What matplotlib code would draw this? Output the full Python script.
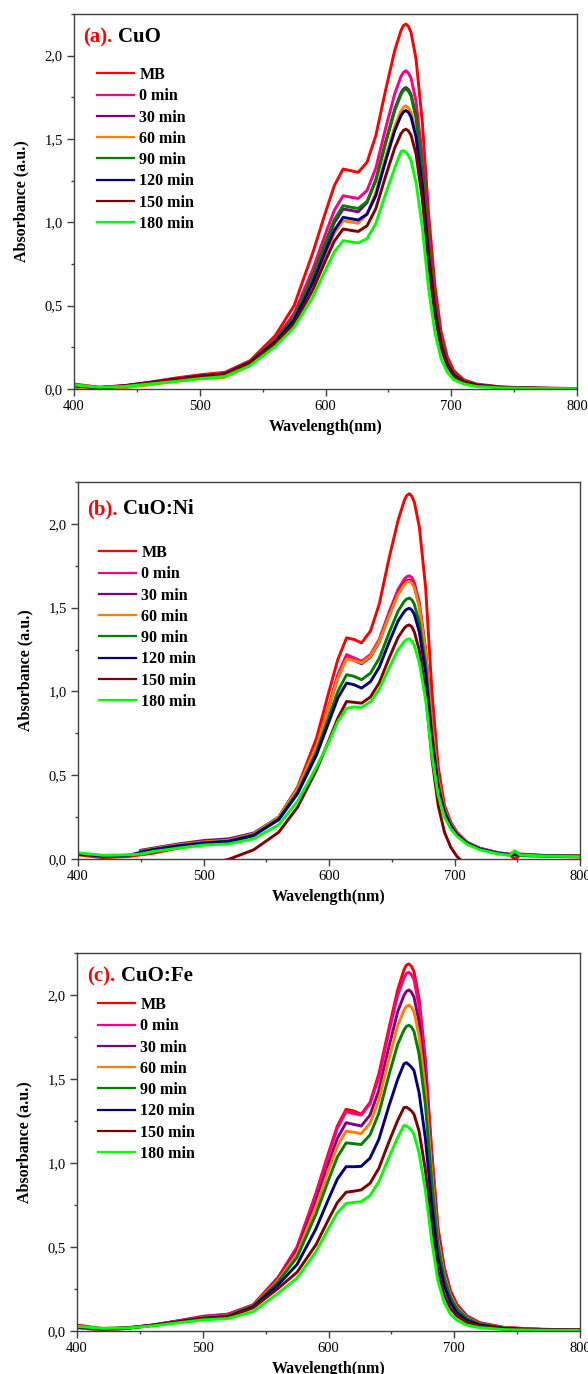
import matplotlib
matplotlib.use('Agg')
import numpy as np
import matplotlib.pyplot as plt
from matplotlib.ticker import MultipleLocator, FuncFormatter
from matplotlib.offsetbox import TextArea, HPacker, AnchoredOffsetbox

plt.rcParams['font.family'] = ['Liberation Serif', 'DejaVu Serif']

nan = np.nan

# legende / couleurs
labels = ['MB', '0 min', '30 min', '60 min', '90 min', '120 min', '150 min', '180 min']
colors = ['#FF0000', '#FF0080', '#800080', '#FF8000', '#008000', '#000080', '#800000', '#00FF00']

# (a) CuO
wl_a = [400, 420, 440, 460, 480, 500, 520, 540, 560, 575, 590, 600, 607, 614, 620, 626, 633, 640,
        648, 655, 660, 662, 664, 666, 668, 672, 677, 682, 687, 692, 697, 702, 710, 720, 740, 770, 800]
cuo_mb = [0.03, 0.01, 0.02, 0.04, 0.065, 0.085, 0.10, 0.17, 0.32, 0.50, 0.82, 1.06, 1.22, 1.32, 1.31,
          1.30, 1.36, 1.52, 1.80, 2.03, 2.15, 2.18, 2.19, 2.175, 2.14, 1.98, 1.60, 1.05, 0.62, 0.34,
          0.19, 0.11, 0.055, 0.03, 0.012, 0.005, 0.003]
cuo_0 = [0.025, 0.01, 0.02, 0.04, 0.06, 0.08, 0.095, 0.164, 0.299, 0.452, 0.721, 0.932, 1.072, 1.160,
         1.151, 1.143, 1.191, 1.325, 1.570, 1.770, 1.875, 1.900, 1.910, 1.895, 1.866, 1.727, 1.395,
         0.916, 0.541, 0.296, 0.166, 0.096, 0.048, 0.026, 0.011, 0.005, 0.003]
cuo_30 = [0.02, 0.008, 0.018, 0.038, 0.058, 0.078, 0.092, 0.161, 0.288, 0.427, 0.671, 0.867, 0.998,
          1.080, 1.072, 1.063, 1.118, 1.256, 1.487, 1.677, 1.776, 1.800, 1.809, 1.796, 1.768, 1.635,
          1.322, 0.867, 0.512, 0.281, 0.157, 0.091, 0.045, 0.025, 0.010, 0.004, 0.002]
cuo_60 = [0.01, 0.0, 0.008, 0.025, 0.045, 0.06, 0.07, 0.14, 0.27, 0.406, 0.627, 0.811, 0.933, 1.010,
          1.002, 0.995, 1.048, 1.180, 1.397, 1.575, 1.668, 1.690, 1.699, 1.686, 1.661, 1.536, 1.242,
          0.815, 0.481, 0.264, 0.147, 0.085, 0.043, 0.023, 0.009, 0.004, 0.002]
cuo_90 = [0.02, 0.008, 0.018, 0.037, 0.057, 0.077, 0.09, 0.162, 0.291, 0.433, 0.683, 0.883, 1.016,
          1.100, 1.091, 1.083, 1.125, 1.249, 1.480, 1.669, 1.767, 1.791, 1.800, 1.787, 1.759, 1.628,
          1.315, 0.863, 0.510, 0.279, 0.156, 0.090, 0.045, 0.025, 0.010, 0.004, 0.002]
cuo_120 = [0.02, 0.008, 0.018, 0.037, 0.057, 0.076, 0.09, 0.159, 0.281, 0.412, 0.640, 0.827, 0.952,
           1.030, 1.022, 1.014, 1.049, 1.160, 1.373, 1.549, 1.640, 1.663, 1.671, 1.659, 1.633, 1.511,
           1.221, 0.801, 0.473, 0.259, 0.145, 0.084, 0.042, 0.023, 0.009, 0.004, 0.002]
cuo_150 = [0.02, 0.008, 0.018, 0.037, 0.057, 0.076, 0.088, 0.156, 0.272, 0.391, 0.596, 0.771, 0.887,
           0.960, 0.952, 0.945, 0.979, 1.082, 1.282, 1.445, 1.531, 1.552, 1.559, 1.548, 1.524, 1.410,
           1.139, 0.748, 0.441, 0.242, 0.135, 0.078, 0.039, 0.021, 0.009, 0.004, 0.002]
cuo_180 = [0.025, 0.01, 0.015, 0.03, 0.045, 0.062, 0.075, 0.14, 0.255, 0.370, 0.553, 0.714, 0.822,
           0.890, 0.883, 0.876, 0.902, 0.993, 1.175, 1.326, 1.425, 1.43, 1.42, 1.40, 1.37, 1.24, 0.97,
           0.60, 0.34, 0.18, 0.10, 0.055, 0.03, 0.015, 0.006, 0.003, 0.002]

# (b) CuO:Ni
wl_b = [400, 420, 440, 450, 460, 480, 500, 520, 540, 560, 575, 590, 600, 607, 614, 620, 626, 633, 640,
        648, 655, 660, 662, 664, 666, 668, 672, 677, 682, 687, 692, 697, 702, 710, 720, 735, 744, 748,
        752, 770, 800]
ni_mb = [0.025, 0.008, 0.015, 0.025, 0.035, 0.065, 0.09, 0.10, 0.14, 0.25, 0.43, 0.72, 1.00, 1.19, 1.32,
         1.31, 1.29, 1.36, 1.52, 1.80, 2.02, 2.14, 2.17, 2.18, 2.165, 2.13, 1.98, 1.62, 1.00, 0.55,
         0.32, 0.22, 0.16, 0.10, 0.064, 0.034, 0.024, 0.0, 0.02, 0.016, 0.012]
ni_0 = [nan, nan, nan, 0.05, 0.06, 0.085, 0.105, 0.115, 0.15, 0.25, 0.42, 0.68, 0.92, 1.10, 1.22, 1.20,
        1.18, 1.22, 1.31, 1.476, 1.608, 1.67, 1.685, 1.69, 1.68, 1.65, 1.53, 1.25, 0.80, 0.47, 0.30,
        0.21, 0.155, 0.10, 0.065, 0.038, 0.028, 0.045, 0.03, 0.022, 0.02]
ni_30 = [nan, nan, nan, 0.052, 0.065, 0.09, 0.11, 0.12, 0.155, 0.25, 0.42, 0.67, 0.91, 1.08, 1.20, 1.185,
         1.165, 1.205, 1.295, 1.455, 1.585, 1.645, 1.66, 1.665, 1.655, 1.625, 1.51, 1.235, 0.79, 0.46,
         0.29, 0.205, 0.15, 0.098, 0.063, 0.036, 0.028, 0.027, 0.027, 0.021, 0.018]
ni_60 = [nan, nan, nan, 0.048, 0.06, 0.085, 0.102, 0.112, 0.15, 0.25, 0.42, 0.675, 0.91, 1.08, 1.195,
         1.185, 1.17, 1.21, 1.297, 1.452, 1.579, 1.637, 1.652, 1.657, 1.647, 1.62, 1.505, 1.235, 0.80,
         0.47, 0.295, 0.208, 0.152, 0.098, 0.062, 0.035, 0.027, 0.026, 0.026, 0.02, 0.017]
ni_90 = [nan, nan, nan, 0.045, 0.058, 0.08, 0.097, 0.107, 0.145, 0.24, 0.40, 0.64, 0.85, 1.00, 1.10,
         1.09, 1.07, 1.109, 1.197, 1.352, 1.479, 1.538, 1.552, 1.557, 1.547, 1.52, 1.41, 1.16, 0.75,
         0.445, 0.285, 0.20, 0.148, 0.095, 0.06, 0.034, 0.026, 0.025, 0.025, 0.02, 0.016]
ni_120 = [0.03, 0.018, 0.022, 0.04, 0.055, 0.078, 0.095, 0.105, 0.14, 0.235, 0.39, 0.62, 0.82, 0.96,
          1.05, 1.04, 1.02, 1.058, 1.144, 1.296, 1.42, 1.477, 1.491, 1.496, 1.486, 1.46, 1.355, 1.11,
          0.72, 0.43, 0.28, 0.198, 0.146, 0.094, 0.06, 0.034, 0.026, 0.025, 0.025, 0.02, 0.016]
ni_150 = [-0.12, -0.11, -0.10, -0.09, -0.08, -0.06, -0.035, -0.002, 0.055, 0.16, 0.31, 0.53, 0.71, 0.84,
          0.94, 0.935, 0.93, 0.967, 1.051, 1.201, 1.322, 1.378, 1.392, 1.397, 1.386, 1.355, 1.245, 0.99,
          0.60, 0.32, 0.16, 0.07, 0.015, -0.04, -0.06, -0.07, -0.07, -0.07, -0.07, -0.07, -0.07]
ni_180 = [0.037, 0.022, 0.025, 0.03, 0.045, 0.065, 0.083, 0.09, 0.12, 0.205, 0.345, 0.55, 0.70, 0.82,
          0.90, 0.907, 0.905, 0.938, 1.011, 1.142, 1.249, 1.298, 1.31, 1.314, 1.30, 1.275, 1.17, 0.95,
          0.62, 0.38, 0.25, 0.18, 0.135, 0.088, 0.055, 0.03, 0.022, 0.05, 0.024, 0.018, 0.014]

# (c) CuO:Fe
wl_c = [400, 420, 440, 460, 480, 500, 520, 540, 560, 575, 590, 600, 607, 614, 620, 626, 633, 640,
        648, 655, 660, 662, 664, 666, 668, 672, 677, 682, 687, 692, 697, 702, 710, 720, 740, 770, 800]
fe_mb = [0.035, 0.015, 0.02, 0.035, 0.06, 0.085, 0.10, 0.155, 0.32, 0.50, 0.82, 1.06, 1.22, 1.32, 1.31,
         1.29, 1.36, 1.53, 1.80, 2.03, 2.15, 2.178, 2.185, 2.17, 2.14, 1.98, 1.62, 1.08, 0.62, 0.38,
         0.24, 0.16, 0.09, 0.05, 0.02, 0.01, 0.007]
fe_0 = [0.02, 0.005, 0.015, 0.035, 0.06, 0.088, 0.10, 0.155, 0.318, 0.496, 0.811, 1.048, 1.207, 1.305,
        1.295, 1.285, 1.353, 1.506, 1.778, 1.999, 2.101, 2.128, 2.135, 2.12, 2.091, 1.934, 1.583, 1.055,
        0.606, 0.371, 0.234, 0.156, 0.088, 0.049, 0.02, 0.01, 0.007]
fe_30 = [0.022, 0.008, 0.016, 0.035, 0.058, 0.083, 0.095, 0.152, 0.309, 0.476, 0.770, 0.995, 1.146,
         1.24, 1.23, 1.22, 1.285, 1.431, 1.690, 1.900, 1.998, 2.022, 2.03, 2.016, 1.988, 1.839, 1.505,
         1.003, 0.576, 0.353, 0.223, 0.149, 0.084, 0.046, 0.019, 0.009, 0.006]
fe_60 = [0.022, 0.008, 0.016, 0.034, 0.056, 0.08, 0.092, 0.150, 0.303, 0.461, 0.740, 0.956, 1.100,
         1.19, 1.183, 1.175, 1.236, 1.374, 1.619, 1.818, 1.909, 1.932, 1.94, 1.927, 1.900, 1.758, 1.439,
         0.959, 0.551, 0.337, 0.213, 0.142, 0.080, 0.044, 0.018, 0.009, 0.006]
fe_90 = [0.022, 0.01, 0.017, 0.034, 0.055, 0.078, 0.09, 0.148, 0.293, 0.439, 0.695, 0.899, 1.035, 1.12,
         1.115, 1.11, 1.167, 1.295, 1.522, 1.706, 1.792, 1.813, 1.82, 1.809, 1.783, 1.649, 1.349, 0.900,
         0.516, 0.317, 0.200, 0.133, 0.075, 0.042, 0.017, 0.008, 0.006]
fe_120 = [0.024, 0.012, 0.018, 0.034, 0.054, 0.075, 0.085, 0.143, 0.275, 0.396, 0.608, 0.785, 0.904,
          0.978, 0.978, 0.98, 1.029, 1.140, 1.338, 1.498, 1.59, 1.597, 1.585, 1.57, 1.55, 1.42, 1.15,
          0.76, 0.44, 0.27, 0.17, 0.11, 0.063, 0.036, 0.015, 0.007, 0.005]
fe_150 = [0.025, 0.013, 0.018, 0.033, 0.052, 0.072, 0.082, 0.138, 0.254, 0.350, 0.513, 0.664, 0.764,
          0.826, 0.832, 0.84, 0.879, 0.968, 1.125, 1.253, 1.33, 1.332, 1.322, 1.31, 1.29, 1.19, 0.96,
          0.63, 0.36, 0.215, 0.135, 0.09, 0.052, 0.03, 0.013, 0.006, 0.005]
fe_180 = [0.028, 0.016, 0.018, 0.03, 0.048, 0.066, 0.074, 0.115, 0.225, 0.315, 0.472, 0.611, 0.703,
          0.76, 0.765, 0.77, 0.806, 0.888, 1.033, 1.151, 1.224, 1.22, 1.21, 1.195, 1.17, 1.06, 0.84,
          0.54, 0.30, 0.17, 0.10, 0.065, 0.035, 0.02, 0.008, 0.004, 0.003]

FW, FH = 588, 1374


def comma_fmt(v, pos):
    return f'{v:.1f}'.replace('.', ',')


panels = [
    # wl, series, tag, name, (left, right, top, bottom) px, title offset, legend offset
    (wl_a, [cuo_mb, cuo_0, cuo_30, cuo_60, cuo_90, cuo_120, cuo_150, cuo_180],
     '(a).', 'CuO', (74, 577, 14, 389), (9, 13), (23, 53)),
    (wl_b, [ni_mb, ni_0, ni_30, ni_60, ni_90, ni_120, ni_150, ni_180],
     '(b).', 'CuO:Ni', (78, 580, 482, 859), (9, 17), (21, 63)),
    (wl_c, [fe_mb, fe_0, fe_30, fe_60, fe_90, fe_120, fe_150, fe_180],
     '(c).', 'CuO:Fe', (77, 580, 953, 1331), (10, 13), (21, 44)),
]

fig = plt.figure(figsize=(FW / 100, FH / 100), dpi=100)

for wl, series, tag, name, (l, r, t, b), (tx, ty), (lx, ly) in panels:
    aw, ah = r - l, b - t
    ax = fig.add_axes([l / FW, (FH - b) / FH, aw / FW, ah / FH])
    for y, lab, col in zip(series, labels, colors):
        ax.plot(wl, y, color=col, lw=2.1, label=lab)

    ax.set_xlim(400, 800)
    ax.set_ylim(0, 2.25)
    ax.xaxis.set_major_locator(MultipleLocator(100))
    ax.xaxis.set_minor_locator(MultipleLocator(50))
    ax.yaxis.set_major_locator(MultipleLocator(0.5))
    ax.yaxis.set_minor_locator(MultipleLocator(0.25))
    ax.yaxis.set_major_formatter(FuncFormatter(comma_fmt))
    ax.tick_params(which='both', direction='out', top=False, right=False,
                   color='#404040', labelsize=10.5, pad=3)
    ax.tick_params(which='major', length=5, width=1)
    ax.tick_params(which='minor', length=2.5, width=1)
    for sp in ax.spines.values():
        sp.set_color('#404040')
        sp.set_linewidth(1.0)

    ax.set_xlabel('Wavelength(nm)', fontsize=11.5, fontweight='bold', labelpad=4)
    ax.set_ylabel('Absorbance (a.u.)', fontsize=11.5, fontweight='bold', labelpad=11)

    leg = ax.legend(loc='upper left', bbox_to_anchor=(lx / aw, 1 - ly / ah), frameon=False,
                    prop={'weight': 'bold', 'size': 11.5}, handlelength=2.3, handletextpad=0.35,
                    labelspacing=0.33, borderpad=0, borderaxespad=0)
    for ln in leg.get_lines():
        ln.set_linewidth(1.6)

    ta1 = TextArea(tag, textprops=dict(color='red', fontsize=15, fontweight='bold'))
    ta2 = TextArea(name, textprops=dict(color='black', fontsize=15, fontweight='bold'))
    box = HPacker(children=[ta1, ta2], align='baseline', pad=0, sep=4)
    anch = AnchoredOffsetbox(loc='upper left', child=box, pad=0, borderpad=0, frameon=False,
                             bbox_to_anchor=(tx / aw, 1 - ty / ah), bbox_transform=ax.transAxes)
    ax.add_artist(anch)

fig.savefig('out.png', dpi=100)
